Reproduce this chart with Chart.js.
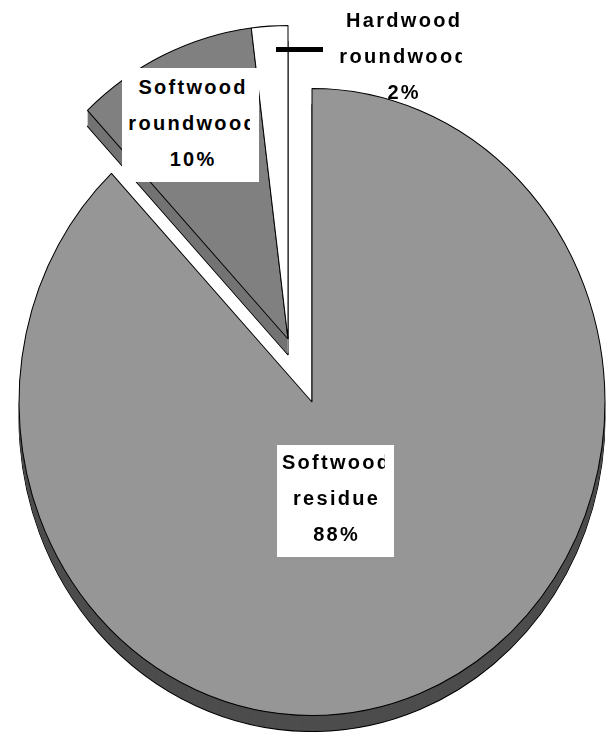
<!DOCTYPE html>
<html>
<head>
<meta charset="utf-8">
<script src="https://cdn.jsdelivr.net/npm/chart.js@4.4.1/dist/chart.umd.min.js"></script>
<style>
  html, body { margin: 0; padding: 0; background: #fff; }
  #wrap { position: relative; width: 607px; height: 732px; overflow: hidden; }
  #wrap canvas { position: absolute; left: 0; top: 0; }
  .box { position: absolute; }
  .clip { position: absolute; overflow: hidden; }
  .txt { position: absolute; top: 0; width: 240px; white-space: nowrap; text-align: center;
         font: bold 20px "Liberation Sans", Arial, sans-serif; letter-spacing: 2.3px;
         padding-left: 2.3px; box-sizing: border-box; line-height: 36px; color: #000; }
  #leader { position: absolute; left: 276px; top: 47px; width: 47px; height: 5px; background: #000; }
</style>
</head>
<body>
<div id="wrap">
  <canvas id="baseChart" width="607" height="732"></canvas>
  <canvas id="pulledChart" width="607" height="732"></canvas>
  <div id="leader"></div>
</div>
<script>
  // data
  const categories = ['Softwood residue', 'Softwood roundwood', 'Hardwood roundwood'];
  const shares = [88, 10, 2];

  // look
  const topColors = ['#969696', '#808080', '#ffffff'];
  const sideColors = ['#4d4d4d', '#737373', '#ffffff'];
  const none = 'rgba(0,0,0,0)';
  const sideDepth = 16;
  const yStretch = 1.07;

  // label boxes (page pixels)
  const labelBoxes = [
    { x: 277, y: 445, w: 117, h: 112, clipL: 277, clipR: 385, cx: 335.5, top: 444, fill: '#fff' },
    { x: 122, y: 68, w: 137, h: 114, clipL: 122, clipR: 250, cx: 192, top: 69, fill: '#fff' },
    { x: 330, y: 0, w: 140, h: 110, clipL: 330, clipR: 462, cx: 403, top: 2, fill: 'transparent' }
  ];

  function squash(ctx, el) {
    ctx.translate(el.x, el.y);
    ctx.scale(1, yStretch);
    ctx.translate(-el.x, -el.y);
  }

  // fake 3D: stacked copies of each arc below the top face, then an elliptical top face
  const pie3d = {
    id: 'pie3d',
    beforeDatasetsDraw(chart, args, opts) {
      const ctx = chart.ctx;
      const arcs = chart.getDatasetMeta(0).data;
      for (let d = sideDepth; d >= 1; d--) {
        ctx.save();
        ctx.translate(0, d);
        squash(ctx, arcs[0]);
        arcs.forEach((arc, i) => {
          const own = arc.options;
          const o = { ...own, backgroundColor: opts.sides[i] };
          if (d < sideDepth) o.borderWidth = 0;
          arc.options = o;
          arc.draw(ctx);
          arc.options = own;
        });
        ctx.restore();
      }
      ctx.save();
      squash(ctx, arcs[0]);
    },
    afterDatasetsDraw(chart) {
      chart.ctx.restore();
    }
  };

  function makePie(id, visible, padding) {
    const show = (c, i) => visible.includes(i) ? c : none;
    return new Chart(document.getElementById(id), {
      type: 'pie',
      data: {
        labels: categories,
        datasets: [{
          data: shares,
          backgroundColor: topColors.map(show),
          borderColor: topColors.map((c, i) => show('#000', i)),
          borderWidth: 1,
          clip: false
        }]
      },
      options: {
        responsive: false,
        maintainAspectRatio: false,
        animation: false,
        events: [],
        radius: 293,
        layout: { padding: padding },
        plugins: {
          legend: { display: false },
          tooltip: { enabled: false },
          pie3d: { sides: sideColors.map(show) }
        }
      },
      plugins: [pie3d]
    });
  }

  makePie('baseChart', [0], { left: 17, right: 0, top: 72, bottom: 0 });
  makePie('pulledChart', [1, 2], { left: 0, right: 31, top: 0, bottom: 54 });

  // labels
  const wrap = document.getElementById('wrap');
  labelBoxes.forEach((b, i) => {
    const box = document.createElement('div');
    box.className = 'box';
    Object.assign(box.style, { left: b.x + 'px', top: b.y + 'px', width: b.w + 'px', height: b.h + 'px', background: b.fill });
    wrap.appendChild(box);

    const clip = document.createElement('div');
    clip.className = 'clip';
    Object.assign(clip.style, { left: b.clipL + 'px', top: b.top + 'px', width: (b.clipR - b.clipL) + 'px', height: '108px' });
    const txt = document.createElement('div');
    txt.className = 'txt';
    txt.style.left = (b.cx - 120 - b.clipL) + 'px';
    const lines = categories[i].split(' ').concat(shares[i] + '%');
    txt.innerHTML = lines.join('<br>');
    clip.appendChild(txt);
    wrap.appendChild(clip);
  });
</script>
</body>
</html>
